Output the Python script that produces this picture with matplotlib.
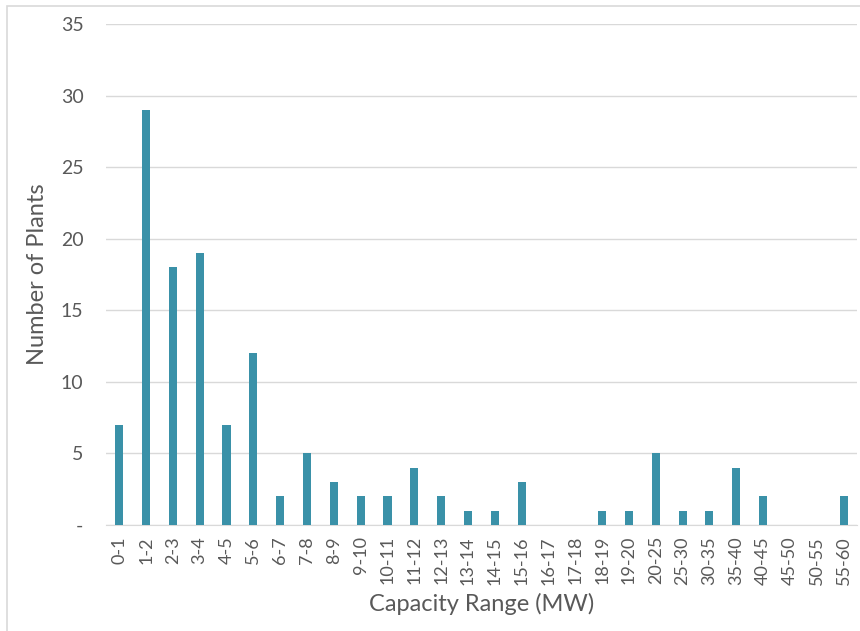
import matplotlib.pyplot as plt
from matplotlib.patches import Rectangle

plt.rcParams['font.family'] = ['Lato', 'DejaVu Sans']

# Capacity bins and plant counts
ranges = ['0-1', '1-2', '2-3', '3-4', '4-5', '5-6', '6-7', '7-8', '8-9', '9-10',
          '10-11', '11-12', '12-13', '13-14', '14-15', '15-16', '16-17', '17-18',
          '18-19', '19-20', '20-25', '25-30', '30-35', '35-40', '40-45', '45-50',
          '50-55', '55-60']
plants = [7, 29, 18, 19, 7, 12, 2, 5, 3, 2,
          2, 4, 2, 1, 1, 3, 0, 0,
          1, 1, 5, 1, 1, 4, 2, 0,
          0, 2]
yticks = [0, 5, 10, 15, 20, 25, 30, 35]
ytick_labels = ['-', '5', '10', '15', '20', '25', '30', '35']

fig = plt.figure(figsize=(8.6, 6.31), dpi=100)
ax = fig.add_axes([0.123, 0.168, 0.8735, 0.794])

# light frame around the chart area
fig.patches.append(Rectangle((7 / 860, -0.1), 1.2, 1 - 6 / 631 + 0.1,
                             transform=fig.transFigure, fill=False,
                             edgecolor='#d9d9d9', linewidth=1.2))

x = range(len(ranges))
ax.bar(x, plants, width=0.3, color='#3a91a8', zorder=3)

ax.set_xlim(-0.5, len(ranges) - 0.5)
ax.set_ylim(0, 35)
ax.set_yticks(yticks)
ax.set_yticklabels(ytick_labels)
ax.set_xticks(list(x))
ax.set_xticklabels(ranges, rotation=90)

ax.grid(axis='y', color='#d9d9d9', linewidth=1, zorder=0)
for s in ['top', 'right', 'left']:
    ax.spines[s].set_visible(False)
ax.spines['bottom'].set_color('#d9d9d9')
ax.tick_params(axis='both', length=0, colors='#595959')
ax.tick_params(axis='y', labelsize=14, pad=16)
ax.tick_params(axis='x', labelsize=13, pad=8)

ax.set_xlabel('Capacity Range (MW)', fontsize=17, color='#595959', labelpad=6)
fig.text(38 / 860, 1 - 274 / 631, 'Number of Plants', rotation=90,
         ha='center', va='center', fontsize=17, color='#595959')

plt.savefig('out.png', dpi=100)
